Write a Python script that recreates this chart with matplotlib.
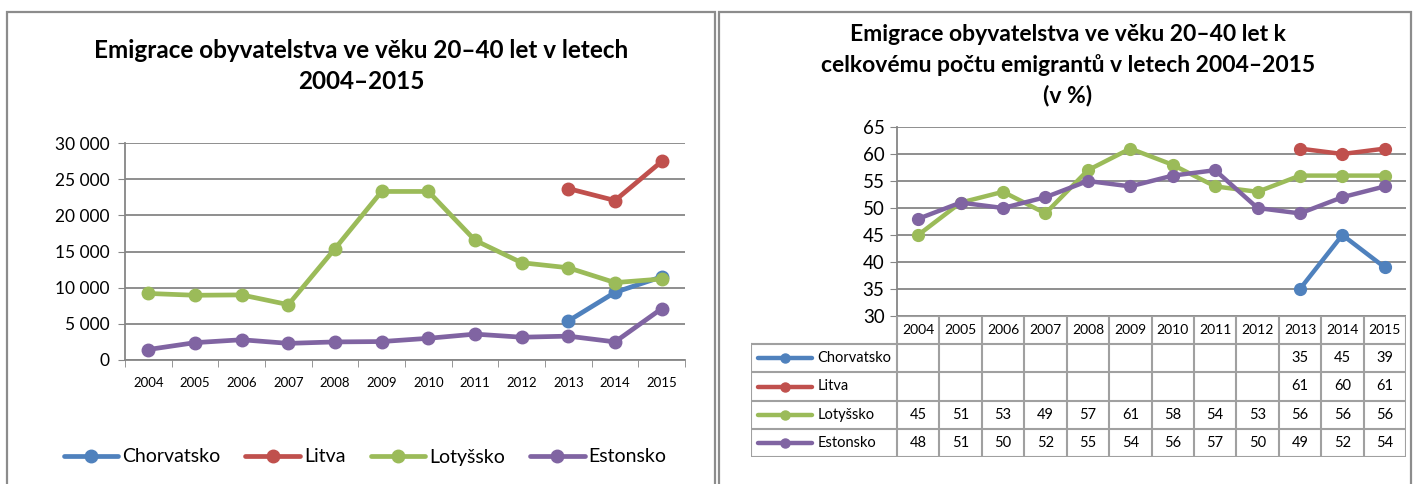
import numpy as np
import matplotlib
matplotlib.use('Agg')
import matplotlib.pyplot as plt
from matplotlib.patches import Rectangle
import matplotlib.ticker as mtick

plt.rcParams['font.family'] = ['Lato', 'DejaVu Sans']

years = ['2004', '2005', '2006', '2007', '2008', '2009', '2010', '2011', '2012', '2013', '2014', '2015']
series = ['Chorvatsko', 'Litva', 'Lotyšsko', 'Estonsko']
colors = ['#4F81BD', '#C0504D', '#9BBB59', '#8064A2']

nan = np.nan
# absolute counts (left chart)
abs_chorvatsko = [nan] * 9 + [5400, 9350, 11500]
abs_litva = [nan] * 9 + [23700, 22050, 27450]
abs_lotyssko = [9200, 8950, 9000, 7650, 15400, 23300, 23300, 16550, 13450, 12750, 10700, 11200]
abs_estonsko = [1450, 2400, 2800, 2300, 2500, 2550, 3000, 3580, 3150, 3300, 2500, 7100]

# share in % (right chart + table)
pct_chorvatsko = [nan] * 9 + [35, 45, 39]
pct_litva = [nan] * 9 + [61, 60, 61]
pct_lotyssko = [45, 51, 53, 49, 57, 61, 58, 54, 53, 56, 56, 56]
pct_estonsko = [48, 51, 50, 52, 55, 54, 56, 57, 50, 49, 52, 54]

abs_data = [abs_chorvatsko, abs_litva, abs_lotyssko, abs_estonsko]
pct_data = [pct_chorvatsko, pct_litva, pct_lotyssko, pct_estonsko]

W, H = 1415, 484
fig = plt.figure(figsize=(W / 100, H / 100), dpi=100)

def fx(px):
    return px / W

def fy(py):
    return 1 - py / H

grid_c = '#868686'
frame_c = '#8c8c8c'
x = np.arange(len(years))

# panel frames (bottom edge runs off the picture)
for x0, x1 in [(7, 715), (719, 1411)]:
    fig.add_artist(Rectangle((fx(x0), fy(H + 10)), fx(x1 - x0), (H + 10 - 12) / H,
                             fill=False, ec=frame_c, lw=1.6, transform=fig.transFigure))

# ---------- left chart ----------
ax1 = fig.add_axes([fx(125), fy(360), fx(685 - 125), (360 - 143) / H])
for vals, c, name in zip(abs_data, colors, series):
    ax1.plot(x, vals, color=c, lw=3.4, marker='o', ms=9, label=name, solid_capstyle='round')
ax1.set_xlim(-0.5, 11.5)
ax1.set_ylim(0, 30000)
ax1.set_yticks(np.arange(0, 30001, 5000))
ax1.yaxis.set_major_formatter(mtick.FuncFormatter(lambda v, p: '{:,.0f}'.format(v).replace(',', ' ')))
ax1.set_xticks(x)
ax1.set_xticklabels(years, fontsize=9.5)
ax1.set_xticks(np.arange(-0.5, 12, 1), minor=True)
ax1.tick_params(axis='x', which='major', length=0, pad=12)
ax1.tick_params(axis='x', which='minor', length=5, color=grid_c, direction='out')
ax1.tick_params(axis='y', length=5, color=grid_c, labelsize=12.5, pad=6)
ax1.grid(axis='y', color=grid_c, lw=1.3)
ax1.set_axisbelow(True)
for s in ['top', 'right']:
    ax1.spines[s].set_visible(False)
for s in ['left', 'bottom']:
    ax1.spines[s].set_color(grid_c)
    ax1.spines[s].set_linewidth(1.3)

fig.text(fx(361), fy(66), 'Emigrace obyvatelstva ve věku 20–40 let v letech\n2004–2015',
         ha='center', va='center', fontsize=17.5, fontweight='bold', linespacing=1.4)

fig.legend(*ax1.get_legend_handles_labels(), loc='center', bbox_to_anchor=(fx(365), fy(457)),
           ncol=4, frameon=False, fontsize=14, handlelength=2.8, handletextpad=0.2,
           columnspacing=1.3)

# ---------- right chart ----------
ax2 = fig.add_axes([fx(897), fy(316), fx(1406 - 897), (316 - 127) / H])
for vals, c in zip(pct_data, colors):
    ax2.plot(x, vals, color=c, lw=3.2, marker='o', ms=8.5, solid_capstyle='round')
ax2.set_xlim(-0.5, 11.5)
ax2.set_ylim(30, 65)
ax2.set_yticks(np.arange(30, 66, 5))
ax2.set_xticks([])
ax2.tick_params(axis='y', length=5, color=grid_c, labelsize=13.5, pad=4)
ax2.grid(axis='y', color=grid_c, lw=1.3)
ax2.set_axisbelow(True)
for s in ['top', 'right', 'bottom']:
    ax2.spines[s].set_visible(False)
ax2.spines['left'].set_color(grid_c)
ax2.spines['left'].set_linewidth(1.3)

fig.text(fx(1068), fy(65), 'Emigrace obyvatelstva ve věku 20–40 let k\ncelkovému počtu emigrantů v letech 2004–2015\n(v %)',
         ha='center', va='center', fontsize=16.5, fontweight='bold', linespacing=1.5)

# ---------- data table ----------
col_w = (1406 - 897) / 12
lab_w = (897 - 751) / col_w
tax = fig.add_axes([fx(751), fy(457), fx(1406 - 751), (457 - 316) / H])
tax.set_xlim(-0.5 - lab_w, 11.5)
tax.set_ylim(5, 0)
tax.axis('off')
tc = '#a0a0a0'
x0 = -0.5 - lab_w
tax.plot([-0.5, 11.5], [0, 0], color=tc, lw=1.5)
for r in range(1, 6):
    tax.plot([x0, 11.5], [r, r], color=tc, lw=1.5)
tax.plot([x0, x0], [1, 5], color=tc, lw=1.5)
for k in range(13):
    tax.plot([k - 0.5, k - 0.5], [0, 5], color=tc, lw=1.5)
for i, yr in enumerate(years):
    tax.text(i, 0.5, yr, ha='center', va='center', fontsize=10)
for r, (name, vals, c) in enumerate(zip(series, pct_data, colors), start=1):
    tax.plot([x0 + 0.17, x0 + 1.44], [r + 0.5, r + 0.5], color=c, lw=3.2, solid_capstyle='round')
    tax.plot([x0 + 0.8], [r + 0.5], 'o', color=c, ms=6.5)
    tax.text(x0 + 1.56, r + 0.5, name, ha='left', va='center', fontsize=10.5)
    for i, v in enumerate(vals):
        if not np.isnan(v):
            tax.text(i, r + 0.5, '%d' % v, ha='center', va='center', fontsize=10.5)

fig.savefig('out.png', dpi=100)
